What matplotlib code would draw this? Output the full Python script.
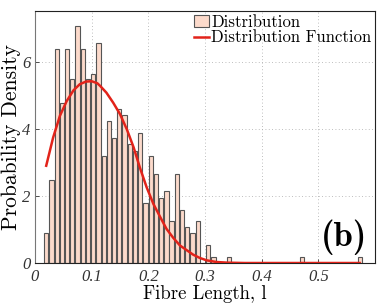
import numpy as np
import matplotlib
matplotlib.use("Agg")
import matplotlib.pyplot as plt
from matplotlib.patches import Patch
from matplotlib.lines import Line2D

# ---- data ----
first_center = 0.0198
bin_width = 0.00922
densities = [0.89, 2.48, 6.37, 4.77, 6.37, 5.48, 7.08, 6.37, 5.48, 5.65,
             6.55, 3.19, 4.24, 3.72, 4.60, 4.42, 3.54, 3.35, 3.89, 1.78,
             3.19, 2.66, 1.93, 2.15, 1.24, 2.66, 1.59, 1.06, 0.89, 1.24,
             0.00, 0.53, 0.18, 0.00, 0.00, 0.18, 0.00, 0.00, 0.00, 0.00,
             0.00, 0.00, 0.00, 0.00, 0.00, 0.00, 0.00, 0.00, 0.00, 0.18,
             0.00, 0.00, 0.00, 0.00, 0.00, 0.00, 0.00, 0.00, 0.00, 0.00,
             0.18]
curve_x = [0.0198, 0.032, 0.044, 0.056, 0.068, 0.079, 0.090, 0.100, 0.110,
           0.115, 0.126, 0.138, 0.150, 0.162, 0.174, 0.185, 0.197, 0.209,
           0.221, 0.232, 0.244, 0.256, 0.268, 0.279, 0.291, 0.303, 0.320,
           0.340, 0.370, 0.420, 0.500, 0.573]
curve_y = [2.90, 3.74, 4.39, 4.83, 5.15, 5.33, 5.41, 5.42, 5.36,
           5.28, 5.08, 4.78, 4.44, 3.99, 3.45, 2.85, 2.26, 1.76,
           1.37, 1.02, 0.75, 0.52, 0.38, 0.25, 0.15, 0.08, 0.03,
           0.01, 0.0, 0.0, 0.0, 0.0]
x_ticks = [0, 0.1, 0.2, 0.3, 0.4, 0.5]
x_ticklabels = ["0", "0.1", "0.2", "0.3", "0.4", "0.5"]
y_ticks = [0, 2, 4, 6]
y_ticklabels = ["0", "2", "4", "6"]

centers = first_center + bin_width * np.arange(len(densities))

fig = plt.figure(figsize=(3.82, 3.06), dpi=100)
ax = fig.add_axes([0.0916, 0.1405, 0.89, 0.822])

bar_face = "#fcdacb"
bar_edge = "#555555"
ax.bar(centers, densities, width=bin_width * 0.82, color=bar_face,
       edgecolor=bar_edge, linewidth=0.8, zorder=2)
ax.plot(curve_x, curve_y, color="#e2231a", linewidth=1.8, zorder=3)

ax.set_xlim(0, 0.6)
ax.set_ylim(0, 7.5)
ax.set_xticks(x_ticks)
ax.set_yticks(y_ticks)
tick_font = dict(family="Liberation Serif", style="italic", size=12)
ax.set_xticklabels(x_ticklabels, fontdict=tick_font)
ax.set_yticklabels(y_ticklabels, fontdict=tick_font)
ax.tick_params(direction="in", length=3, width=0.6, colors="#333333",
               top=False, right=False)
ax.tick_params(axis="x", pad=4)
ax.tick_params(axis="y", pad=3)
ax.grid(True, linestyle=(0, (1, 3)), color="#a8a8a8", linewidth=0.6, zorder=0)
ax.set_axisbelow(True)
for s in ax.spines.values():
    s.set_color("#222222")
    s.set_linewidth(0.8)
ax.spines["left"].set_color("#777777")

ax.set_xlabel("Fibre Length, l", fontfamily="cmr10", fontsize=13.5, labelpad=0)
ax.set_ylabel("Probability Density", fontfamily="cmr10", fontsize=15.5, labelpad=1)

handles = [Patch(facecolor=bar_face, edgecolor="#555555", linewidth=0.8),
           Line2D([0], [0], color="#e2231a", linewidth=1.8)]
leg = ax.legend(handles, ["Distribution", "Distribution Function"],
                loc="upper right", frameon=False,
                prop=dict(family="cmr10", size=12),
                borderaxespad=0.1, handlelength=0.9, handletextpad=0.15,
                labelspacing=0.0, borderpad=0.1)

ax.text(0.978, 0.03, "(b)", transform=ax.transAxes, ha="right", va="bottom",
        fontfamily="cmb10", fontsize=25)

fig.savefig("out.png", dpi=100)
